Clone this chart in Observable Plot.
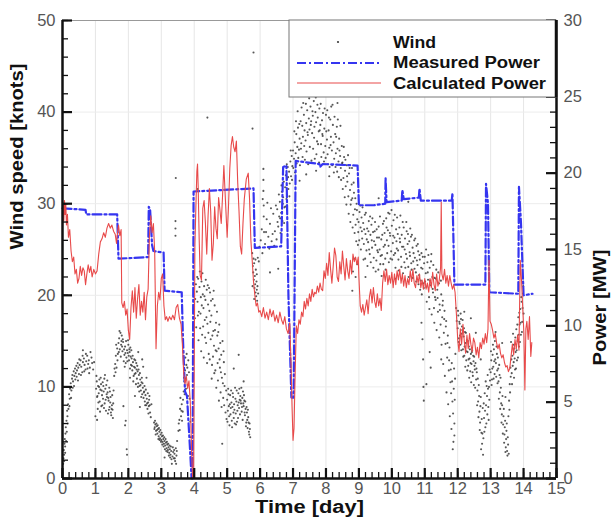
<!DOCTYPE html>
<html><head><meta charset="utf-8">
<script src="https://cdn.jsdelivr.net/npm/d3@7"></script>
<script src="https://cdn.jsdelivr.net/npm/@observablehq/plot@0.6"></script>
<style>
body{margin:0;background:#fff;}
#chart svg{display:block}
</style></head><body><div id="chart"></div>
<script>
// ---- tick labels ----
const xTicks = [0,1,2,3,4,5,6,7,8,9,10,11,12,13,14,15];
const leftTicks = [0,10,20,30,40,50];
const rightTicksMW = [0,5,10,15,20,25,30];
const KNOTS_PER_MW = 50/30;

// ---- Wind speed [knots] (scatter) : [day, knots] ----
const wind = [
[0.02,1.6],[0.03,2.2],[0.04,3.1],[0.05,2.6],[0.06,3.8],[0.07,4.3],[0.08,3.5],[0.09,4.9],[0.10,5.6],[0.11,4.1],[0.12,6.3],[0.14,7.4],[0.15,6.8],[0.17,8.1],[0.18,7.6],[0.20,9.2],[0.22,8.7],[0.23,9.8],[0.25,10.4],[0.27,9.6],[0.29,10.9],[0.30,11.3],[0.32,10.6],[0.34,11.7],[0.36,11.2],[0.38,12.0],[0.40,11.5],[0.42,12.3],[0.44,11.8],[0.46,12.6],[0.48,12.1],[0.50,11.4],[0.52,12.4],[0.55,12.9],[0.57,12.2],[0.60,11.6],[0.62,12.7],[0.65,13.1],[0.67,12.4],[0.70,11.9],[0.72,12.8],[0.75,13.4],[0.78,12.5],[0.80,12.9],[0.83,12.1],[0.85,13.8],[0.90,12.6],[0.62,14.0],
[1.02,9.8],[1.04,10.6],[1.05,8.9],[1.07,7.6],[1.08,10.1],[1.10,9.3],[1.12,10.8],[1.13,8.4],[1.15,9.7],[1.17,10.3],[1.18,7.9],[1.20,9.1],[1.22,10.5],[1.23,8.7],[1.25,9.5],[1.27,10.9],[1.28,8.2],[1.30,9.8],[1.32,7.4],[1.33,10.2],[1.35,8.9],[1.37,9.4],[1.38,7.1],[1.40,8.5],[1.42,9.9],[1.43,7.8],[1.45,8.3],[1.47,7.2],[1.48,6.9],[1.50,8.0],[1.52,7.5],[1.05,6.4],[1.00,6.8],[1.55,9.6],
[1.57,11.2],[1.60,12.5],[1.62,13.4],[1.64,12.1],[1.66,14.2],[1.68,13.6],[1.70,14.8],[1.72,15.3],[1.74,14.1],[1.76,15.9],[1.78,14.6],[1.80,15.6],[1.82,13.9],[1.84,14.9],[1.86,12.8],[1.88,13.5],[1.90,14.4],[1.92,12.6],[1.94,13.2],[1.96,14.0],[1.98,13.7],[2.00,14.6],[2.02,12.9],[2.04,13.8],[2.06,14.3],[2.08,12.4],[1.90,5.8],[1.92,6.3],[1.95,3.2],[1.96,2.6],[1.85,7.9],[2.10,13.1],
[2.12,11.8],[2.14,12.7],[2.16,11.2],[2.18,13.0],[2.20,12.1],[2.22,11.5],[2.24,12.6],[2.26,10.9],[2.28,11.7],[2.30,10.4],[2.32,11.3],[2.34,10.1],[2.36,10.8],[2.38,9.6],[2.40,10.5],[2.42,9.2],[2.44,9.9],[2.46,8.8],[2.48,9.5],[2.50,8.4],[2.52,9.1],[2.54,8.0],[2.56,8.7],[2.58,7.6],[2.60,8.3],[2.62,7.9],[2.64,9.0],[2.66,7.2],[2.30,13.8],[2.45,12.2],[2.55,11.0],[2.70,8.1],
[2.78,6.1],[2.80,5.6],[2.82,5.9],[2.84,5.2],[2.86,5.7],[2.88,4.9],[2.90,5.4],[2.92,4.6],[2.94,5.1],[2.96,4.4],[2.98,4.8],[3.00,4.2],[3.02,4.6],[3.04,4.0],[3.06,4.3],[3.08,3.8],[3.10,4.1],[3.12,3.6],[3.14,3.9],[3.16,3.3],[3.18,3.7],[3.20,3.1],[3.22,3.4],[3.24,2.8],[3.26,3.2],[3.28,2.6],[3.30,3.0],[3.32,1.6],[3.34,2.4],[3.36,2.9],[3.38,2.2],[3.40,2.7],[3.42,1.9],[3.44,3.3],[3.46,2.5],[3.48,4.1],[3.10,2.3],
[3.52,5.2],[3.55,6.4],[3.57,7.6],[3.60,6.8],[3.62,8.1],[3.65,7.3],[3.68,9.5],[3.70,10.6],[3.72,11.8],[3.74,10.9],[3.76,12.4],[3.78,11.3],[3.80,10.2],[3.82,12.9],[3.84,11.6],[3.86,8.7],[3.88,6.2],[3.90,4.5],[3.92,2.8],[3.43,26.5],[3.43,27.3],[3.43,28.1],[3.44,32.8],
[4.02,17.5],[4.05,21.2],[4.08,20.4],[4.10,19.3],[4.12,21.8],[4.14,18.2],[4.16,20.9],[4.18,16.4],[4.20,19.8],[4.22,21.5],[4.24,15.7],[4.26,20.1],[4.28,18.6],[4.30,21.0],[4.32,17.3],[4.34,19.5],[4.36,14.8],[4.38,20.6],[4.40,16.9],[4.42,19.0],[4.44,13.6],[4.46,18.3],[4.48,20.3],[4.50,15.2],[4.52,17.8],[4.54,12.4],[4.56,19.6],[4.58,16.1],[4.60,14.5],[4.62,18.9],[4.64,11.8],[4.66,17.0],[4.68,13.9],[4.70,15.6],[4.72,10.7],[4.74,14.2],[4.76,16.8],[4.78,12.1],[4.80,9.4],[4.82,13.5],[4.84,11.0],[4.86,15.0],[4.88,8.8],[4.90,12.7],[4.92,10.1],[4.95,7.2],[4.40,39.4],[4.10,31.6],[4.85,3.8],[4.25,22.4],
[5.00,8.6],[5.02,7.4],[5.04,9.2],[5.06,6.8],[5.08,8.1],[5.10,7.0],[5.12,9.6],[5.14,6.3],[5.16,7.8],[5.18,8.9],[5.20,6.6],[5.22,7.5],[5.24,9.9],[5.26,7.1],[5.28,8.4],[5.30,6.2],[5.32,8.0],[5.34,9.3],[5.36,7.7],[5.38,8.6],[5.40,9.0],[5.42,8.2],[5.44,7.3],[5.46,8.8],[5.48,9.5],[5.50,7.9],[5.52,8.5],[5.54,6.9],[5.56,7.6],[5.58,6.1],[5.60,7.2],[5.62,5.5],[5.64,6.7],[5.66,5.1],[5.68,6.0],[5.70,4.5],[5.20,12.0],[5.35,13.5],[5.50,10.6],[5.77,38.2],[5.80,46.5],
[5.76,24.6],[5.78,23.2],[5.79,22.5],[5.80,24.0],[5.81,21.7],[5.82,23.5],[5.83,20.8],[5.84,22.1],[5.85,21.2],[5.86,20.3],[5.87,22.8],[5.88,19.9],[5.89,21.5],[5.90,20.6],[5.91,19.4],[5.92,21.0],[5.94,20.2],[5.96,23.7],[5.98,25.3],
[6.05,27.2],[6.08,30.5],[6.10,33.8],[6.10,32.6],[6.10,31.4],[6.11,29.8],[6.11,28.6],[6.12,26.9],[6.15,25.6],[6.20,28.3],[6.25,26.4],[6.30,27.8],[6.35,25.9],[6.40,28.9],[6.45,27.0],[6.50,26.1],[6.52,29.4],[6.55,27.5],[6.58,28.6],[6.60,30.2],[6.62,26.8],[6.64,29.0],[6.66,31.3],[6.68,28.1],[6.70,30.7],[6.72,32.4],[6.74,29.6],[6.76,31.8],[6.78,33.1],[6.80,30.5],[6.82,32.7],[6.84,34.0],[6.86,31.6],[6.88,33.5],[6.90,32.2],[6.92,34.6],[6.94,33.0],[6.96,35.2],[6.98,34.1],[6.30,22.5],[6.55,22.9],
[7.00,35.8],[7.03,34.9],[7.05,36.7],[7.08,35.5],[7.10,37.6],[7.13,36.2],[7.15,38.3],[7.18,35.9],[7.20,37.1],[7.23,39.0],[7.25,36.6],[7.28,38.5],[7.30,37.3],[7.33,39.7],[7.35,38.0],[7.38,36.9],[7.40,38.8],[7.43,40.2],[7.45,37.5],[7.48,39.3],[7.50,38.1],[7.53,40.6],[7.55,39.0],[7.58,37.7],[7.60,39.6],[7.63,41.2],[7.65,38.4],[7.68,40.0],[7.70,38.9],[7.73,36.8],[7.75,39.4],[7.78,37.9],[7.80,40.4],[7.83,38.6],[7.85,36.5],[7.88,39.1],[7.90,37.4],[7.93,35.6],[7.95,38.2],[7.98,36.3],[8.00,39.7],[8.03,37.0],[8.05,35.4],[8.08,38.0],[8.10,36.1],[8.13,39.2],[8.15,37.3],[8.18,35.8],[8.20,40.8],[8.23,36.7],[8.25,34.9],[8.28,37.6],[8.30,35.5],[8.33,38.4],[8.35,36.0],[8.38,34.6],[8.40,37.1],[8.43,35.2],[8.45,33.9],[8.48,36.3],[7.40,33.2],[7.70,33.6],[8.10,33.0],[7.20,32.5],[7.90,41.8],[8.35,41.0],
[8.50,34.5],[8.53,32.8],[8.55,35.1],[8.58,33.6],[8.60,31.9],[8.63,34.2],[8.65,32.4],[8.68,30.8],[8.70,33.3],[8.73,31.5],[8.75,29.9],[8.78,32.1],[8.80,30.6],[8.83,28.8],[8.85,31.2],[8.88,29.4],[8.90,27.7],[8.93,30.0],[8.95,28.3],[8.98,26.9],[8.85,24.0],[8.82,22.6],[8.80,20.5],
[9.02,29.1],[9.05,27.4],[9.08,28.5],[9.10,26.2],[9.13,27.9],[9.15,25.6],[9.18,28.8],[9.20,26.7],[9.23,24.9],[9.25,27.3],[9.28,25.8],[9.30,28.1],[9.33,24.5],[9.35,26.6],[9.38,27.7],[9.40,25.2],[9.43,26.9],[9.45,24.1],[9.48,27.0],[9.50,25.5],[9.53,23.8],[9.55,26.3],[9.58,24.7],[9.60,27.5],[9.63,25.0],[9.65,23.4],[9.68,26.1],[9.70,24.4],[9.73,27.8],[9.75,25.3],[9.78,26.8],[9.80,24.0],[9.83,28.4],[9.85,26.0],[9.88,27.1],[9.90,25.4],[9.93,28.9],[9.95,26.5],[9.98,24.8],[10.00,27.6],[10.03,25.7],[10.05,28.2],[10.08,26.3],[10.10,24.6],[10.13,27.2],[10.15,25.1],[10.18,26.7],[10.20,23.9],[10.23,27.4],[10.25,25.8],[10.28,24.2],[10.30,26.6],[10.33,28.0],[10.35,25.3],[10.38,23.6],[10.40,26.2],[10.43,24.5],[10.45,27.0],[10.48,25.6],[10.50,23.1],[10.53,25.9],[10.55,24.3],[10.58,26.4],[10.60,22.8],[10.63,25.2],[10.65,23.7],[10.68,26.0],[10.70,24.1],[10.73,22.5],[10.75,25.4],[10.78,23.3],[10.80,24.8],[10.83,22.2],[10.85,23.9],[10.88,21.6],[10.90,24.6],[10.93,22.9],[10.95,21.3],[10.98,23.5],[9.20,22.0],[9.60,30.6],[10.10,21.8],[10.50,30.2],[10.90,17.0],[10.93,15.2],[10.95,13.0],[10.96,10.0],[10.97,8.5],
[11.00,24.2],[11.03,22.4],[11.05,20.9],[11.08,23.6],[11.10,21.7],[11.13,19.8],[11.15,23.0],[11.18,21.1],[11.20,24.5],[11.23,22.0],[11.25,20.3],[11.28,18.6],[11.30,21.9],[11.33,19.5],[11.35,22.8],[11.38,20.6],[11.40,18.2],[11.43,21.3],[11.45,19.0],[11.48,16.8],[11.50,20.1],[11.53,17.6],[11.55,19.4],[11.58,15.9],[11.60,18.3],[11.63,14.7],[11.65,17.2],[11.68,13.2],[11.70,15.6],[11.73,11.8],[11.75,14.3],[11.78,10.5],[11.80,9.3],[11.82,12.6],[11.84,8.4],[11.86,7.1],[11.88,9.8],[11.90,6.0],[11.92,10.9],[11.15,13.8],[11.18,12.1],[11.05,10.3],[11.50,13.0],[11.85,3.2],[11.90,4.7],
[11.95,18.6],[11.97,17.2],[12.00,16.4],[12.02,17.8],[12.04,15.3],[12.06,16.9],[12.08,14.6],[12.10,17.4],[12.12,15.8],[12.14,16.2],[12.16,14.1],[12.18,15.5],[12.20,13.4],[12.22,16.0],[12.24,14.8],[12.26,12.9],[12.28,15.1],[12.30,13.8],[12.32,12.3],[12.34,14.4],[12.36,13.1],[12.38,11.7],[12.40,13.6],[12.42,12.5],[12.44,14.0],[12.46,11.2],[12.48,12.8],[12.50,13.3],[12.52,11.9],[12.54,12.6],[12.56,10.8],[12.58,11.6],[12.60,9.6],[12.62,8.4],[12.64,10.2],[12.66,7.3],[12.68,6.1],[12.70,8.9],[12.72,5.0],[12.74,3.8],[12.76,7.7],[12.78,4.4],[12.80,6.6],[12.82,9.3],[12.84,5.6],[12.86,8.0],[12.88,10.1],[12.90,7.0],[12.92,9.8],[12.94,6.4],[12.96,8.6],[12.98,10.7],[12.20,18.2],[12.40,17.5],[12.55,15.9],[12.70,13.0],
[13.00,11.6],[13.02,12.9],[13.04,10.8],[13.06,13.5],[13.08,12.2],[13.10,14.1],[13.12,11.4],[13.14,13.0],[13.16,12.6],[13.18,14.4],[13.20,11.8],[13.22,13.2],[13.24,10.6],[13.26,12.4],[13.28,9.4],[13.30,11.0],[13.32,8.2],[13.34,7.0],[13.36,9.0],[13.38,5.9],[13.40,7.6],[13.42,4.8],[13.44,6.3],[13.46,3.4],[13.48,5.2],[13.50,3.0],[13.52,4.5],[13.54,6.8],[13.56,8.5],[13.58,10.3],[13.60,12.1],[13.62,14.9],[13.64,11.5],[13.66,13.4],[13.68,15.8],[13.70,12.7],[13.72,14.2],[13.74,11.9],[13.76,13.8],[13.78,16.3],[13.80,12.9],[13.82,15.0],[13.84,17.6],[13.86,14.4],[13.88,16.8],[13.90,18.5],[13.92,15.7],[13.94,19.3],[13.96,17.1],[13.98,20.2],[14.00,18.0],[13.45,8.9],[13.35,14.8],[13.15,16.0],[13.55,2.7]
];
// more wind samples read from the denser parts of the cloud
const windMore = [
[0.05,1.9],[0.08,2.8],[0.13,5.1],[0.16,6.0],[0.21,7.9],[0.26,8.8],[0.31,9.9],[0.35,10.1],[0.39,10.8],[0.43,11.1],[0.47,10.7],[0.51,13.0],[0.56,11.3],[0.61,13.4],[0.66,11.7],[0.71,13.6],[0.76,12.0],[0.81,11.5],[0.88,13.2],[0.93,11.9],[0.96,12.7],
[1.03,11.2],[1.06,9.0],[1.09,8.3],[1.11,10.0],[1.14,7.3],[1.16,11.0],[1.19,9.6],[1.21,8.0],[1.24,10.1],[1.26,7.7],[1.29,11.3],[1.31,8.6],[1.34,9.2],[1.36,10.7],[1.39,8.8],[1.41,7.5],[1.44,9.5],[1.46,8.9],[1.49,7.6],[1.51,9.1],[1.53,6.6],[1.54,8.2],
[1.58,12.0],[1.61,11.6],[1.63,14.6],[1.67,12.9],[1.71,13.8],[1.73,16.1],[1.77,13.3],[1.79,15.0],[1.81,14.4],[1.83,15.2],[1.87,14.1],[1.89,12.2],[1.91,13.7],[1.93,15.0],[1.97,12.8],[1.99,15.1],[2.01,13.4],[2.03,14.1],[2.05,12.0],[2.07,13.3],[2.09,14.0],[2.11,12.3],[2.13,13.4],[2.15,10.6],[2.17,12.2],[2.19,11.4],[2.21,12.9],[2.23,10.3],[2.25,11.9],[2.27,12.3],[2.29,10.0],[2.31,11.9],[2.33,9.5],[2.35,11.5],[2.37,10.2],[2.39,8.9],[2.41,11.0],[2.43,10.4],[2.47,9.4],[2.49,10.1],[2.51,8.0],[2.53,9.7],[2.57,8.2],[2.59,9.3],[2.61,7.1],[2.63,8.6],[2.65,8.0],[2.68,6.7],[2.20,9.0],[2.35,7.8],[2.42,13.0],[2.05,11.0],
[2.79,5.4],[2.81,6.3],[2.83,4.8],[2.85,6.0],[2.87,5.3],[2.89,5.8],[2.91,4.3],[2.93,5.5],[2.95,4.2],[2.97,5.3],[2.99,4.0],[3.01,5.0],[3.03,3.7],[3.05,4.7],[3.07,3.5],[3.09,4.5],[3.11,3.2],[3.13,4.3],[3.15,3.0],[3.17,4.0],[3.19,2.9],[3.21,3.8],[3.23,2.5],[3.25,3.6],[3.27,2.3],[3.29,3.5],[3.31,2.1],[3.35,3.4],[3.39,3.1],[3.41,2.2],[3.45,1.6],[3.47,3.0],
[3.53,6.0],[3.56,5.3],[3.58,8.8],[3.61,7.4],[3.63,6.3],[3.66,8.6],[3.69,11.0],[3.71,9.2],[3.73,13.2],[3.75,9.8],[3.77,13.6],[3.79,12.1],[3.81,9.0],
[4.03,19.6],[4.06,16.5],[4.09,22.0],[4.11,17.8],[4.13,15.1],[4.17,22.6],[4.19,18.0],[4.21,13.9],[4.23,18.9],[4.27,16.6],[4.29,13.2],[4.31,19.9],[4.33,15.4],[4.35,21.7],[4.37,17.6],[4.39,12.6],[4.41,21.1],[4.43,15.9],[4.45,20.8],[4.47,13.0],[4.49,17.1],[4.51,19.4],[4.53,10.9],[4.55,15.6],[4.57,13.3],[4.59,20.5],[4.61,11.5],[4.63,16.2],[4.65,14.0],[4.67,9.9],[4.69,18.2],[4.71,12.6],[4.73,16.0],[4.75,8.5],[4.77,13.0],[4.79,14.8],[4.81,11.6],[4.83,7.8],[4.87,10.4],[4.89,13.9],[4.91,8.0],[4.93,11.4],[4.97,9.6],[4.98,6.5],
[5.01,6.2],[5.03,9.8],[5.05,7.9],[5.07,5.8],[5.09,9.1],[5.11,7.7],[5.13,8.3],[5.15,5.6],[5.17,9.3],[5.19,7.2],[5.21,8.1],[5.23,6.0],[5.25,8.7],[5.27,5.9],[5.29,9.6],[5.31,7.4],[5.33,6.6],[5.35,8.3],[5.37,9.8],[5.39,7.0],[5.41,8.5],[5.43,9.9],[5.45,7.8],[5.47,6.4],[5.49,8.2],[5.51,9.1],[5.53,7.2],[5.55,8.4],[5.57,5.7],[5.59,7.8],[5.61,6.4],[5.63,7.5],[5.65,6.1],[5.67,4.8],[5.69,5.4],
[5.77,21.0],[5.82,19.6],[5.86,23.9],[5.90,22.3],[5.93,24.1],[6.02,26.0],[6.07,24.6],[6.18,26.9],[6.22,30.1],[6.28,25.1],[6.33,29.5],[6.38,26.7],[6.43,25.4],[6.48,29.8],[6.53,28.0],[6.57,31.0],[6.61,28.4],[6.65,32.0],[6.69,30.0],[6.73,27.9],[6.77,29.7],[6.81,34.3],[6.85,32.9],[6.89,30.8],[6.93,35.8],[6.97,32.6],
[7.01,33.9],[7.04,37.9],[7.06,33.4],[7.09,39.0],[7.11,34.4],[7.14,40.1],[7.16,35.0],[7.19,38.7],[7.21,34.2],[7.24,36.0],[7.26,40.5],[7.29,35.1],[7.31,41.0],[7.34,36.3],[7.36,34.8],[7.39,40.9],[7.41,35.7],[7.44,37.8],[7.46,34.3],[7.49,41.5],[7.51,36.2],[7.54,38.6],[7.56,34.7],[7.59,40.1],[7.61,36.0],[7.64,37.2],[7.66,34.9],[7.69,41.6],[7.71,35.4],[7.74,40.8],[7.76,36.5],[7.79,34.5],[7.81,38.0],[7.84,40.9],[7.86,35.1],[7.89,37.6],[7.91,39.9],[7.94,34.6],[7.96,40.4],[7.99,35.0],[8.01,37.9],[8.04,40.2],[8.06,34.3],[8.09,39.4],[8.11,34.0],[8.14,36.4],[8.16,40.6],[8.19,34.2],[8.21,38.6],[8.24,33.4],[8.26,39.5],[8.29,34.0],[8.31,37.3],[8.34,33.5],[8.36,39.2],[8.39,32.9],[8.41,35.8],[8.44,38.5],[8.46,32.6],[8.49,34.4],
[8.51,31.6],[8.54,36.2],[8.57,30.7],[8.59,34.8],[8.62,29.9],[8.64,33.0],[8.67,35.3],[8.69,28.9],[8.72,33.9],[8.74,28.0],[8.77,30.4],[8.79,33.9],[8.81,27.4],[8.84,32.3],[8.87,26.8],[8.89,30.6],[8.92,25.9],[8.94,29.3],[8.97,25.5],[8.99,28.0],[8.90,22.0],[8.95,23.4],
[9.01,26.0],[9.04,29.8],[9.06,25.0],[9.09,27.0],[9.11,29.6],[9.14,23.9],[9.16,27.2],[9.19,24.0],[9.21,29.0],[9.24,26.1],[9.26,23.2],[9.29,27.0],[9.31,25.0],[9.34,28.6],[9.36,23.6],[9.39,26.0],[9.41,28.4],[9.44,23.0],[9.46,25.9],[9.49,28.0],[9.51,22.6],[9.54,27.2],[9.56,24.9],[9.59,22.8],[9.61,26.3],[9.64,28.6],[9.66,24.3],[9.69,22.1],[9.71,26.6],[9.74,23.4],[9.76,28.1],[9.79,25.5],[9.81,22.8],[9.84,27.4],[9.86,24.6],[9.89,29.0],[9.91,23.6],[9.94,26.8],[9.96,24.0],[9.99,29.3],[10.01,23.9],[10.04,26.5],[10.06,24.4],[10.09,28.8],[10.11,23.0],[10.14,25.9],[10.16,28.5],[10.19,24.9],[10.21,22.7],[10.24,26.2],[10.26,28.7],[10.29,23.1],[10.31,25.3],[10.34,22.4],[10.36,27.4],[10.39,25.0],[10.41,23.0],[10.44,28.0],[10.46,24.0],[10.49,26.7],[10.51,22.0],[10.54,24.7],[10.56,27.3],[10.59,23.5],[10.61,26.6],[10.64,21.9],[10.66,24.6],[10.69,22.9],[10.71,26.2],[10.74,21.5],[10.76,23.8],[10.79,25.6],[10.81,21.2],[10.84,24.4],[10.86,20.6],[10.89,23.0],[10.91,20.1],[10.94,24.2],[10.97,20.8],
[11.01,21.5],[11.04,25.0],[11.06,19.3],[11.09,22.5],[11.11,24.4],[11.14,18.5],[11.16,21.6],[11.19,23.7],[11.21,17.9],[11.24,20.7],[11.26,23.3],[11.29,17.0],[11.31,19.8],[11.34,21.8],[11.36,16.2],[11.39,19.7],[11.41,22.5],[11.44,15.4],[11.46,18.4],[11.49,21.6],[11.51,14.6],[11.54,18.9],[11.56,12.5],[11.59,17.4],[11.61,11.2],[11.64,16.6],[11.66,9.4],[11.69,14.8],[11.71,8.1],[11.74,12.9],[11.76,6.8],[11.79,11.9],[11.81,5.4],[11.83,10.6],[11.87,4.0],[11.89,12.0],[11.91,8.6],[11.93,13.6],
[12.01,18.3],[12.03,14.9],[12.05,17.1],[12.07,15.6],[12.09,18.0],[12.11,14.0],[12.13,16.6],[12.15,17.3],[12.17,13.3],[12.19,16.4],[12.21,14.4],[12.23,12.2],[12.25,15.9],[12.27,13.9],[12.29,11.8],[12.31,15.0],[12.33,13.0],[12.35,11.0],[12.37,14.1],[12.39,12.6],[12.41,10.5],[12.43,13.8],[12.45,11.6],[12.47,13.4],[12.49,10.2],[12.51,12.3],[12.53,9.9],[12.57,12.0],[12.59,8.0],[12.61,10.9],[12.63,6.7],[12.65,9.0],[12.67,5.3],[12.69,7.9],[12.71,3.2],[12.73,6.5],[12.75,4.9],[12.77,2.6],[12.79,8.2],[12.81,5.1],[12.83,7.4],[12.85,10.6],[12.87,6.0],[12.89,9.0],[12.91,11.3],[12.93,7.8],[12.95,10.0],[12.97,11.9],
[13.01,13.9],[13.03,10.2],[13.05,12.0],[13.07,14.6],[13.09,10.9],[13.11,12.8],[13.13,15.0],[13.17,11.1],[13.19,13.6],[13.21,10.4],[13.23,12.0],[13.25,8.7],[13.27,11.3],[13.29,7.6],[13.31,9.9],[13.33,6.1],[13.35,8.0],[13.37,4.9],[13.39,6.8],[13.41,3.9],[13.43,5.6],[13.45,2.9],[13.47,4.3],[13.49,6.0],[13.51,2.5],[13.53,3.7],[13.57,7.5],[13.59,9.4],[13.61,11.1],[13.63,13.0],[13.65,10.3],[13.67,12.3],[13.69,14.6],[13.71,11.0],[13.73,13.1],[13.75,15.4],[13.77,12.0],[13.79,14.0],[13.81,16.8],[13.83,13.2],[13.85,15.7],[13.87,18.1],[13.89,14.9],[13.91,17.0],[13.93,19.8],[13.95,16.0],[13.97,18.6],[13.99,21.0]
];

// ---- Measured Power [MW] ----
const measuredDay = [0.00,0.70,0.72,1.66,1.70,2.60,2.62,2.66,2.72,2.76,3.07,3.10,3.62,3.66,3.72,3.78,3.86,3.92,3.95,3.98,5.80,5.84,6.64,6.70,6.80,6.86,6.95,7.02,7.08,7.80,7.82,7.90,8.96,9.00,9.45,9.80,9.81,9.84,10.30,10.32,10.36,10.82,10.84,10.88,11.82,11.84,11.90,12.84,12.86,12.92,12.96,13.84,13.86,13.92,14.00,14.27];
const measuredMW  = [17.7,17.6,17.3,17.3,14.4,14.5,17.8,17.6,15.3,14.9,14.8,12.3,12.2,9.0,5.7,5.4,2.4,0.0,0.0,18.8,19.0,15.1,15.2,20.4,20.5,12.0,5.3,5.3,20.8,20.6,20.4,20.6,20.5,17.9,17.9,18.0,19.7,18.1,18.2,18.9,18.3,18.4,19.0,18.2,18.2,18.7,12.7,12.7,19.3,18.0,12.2,12.1,19.1,16.8,12.0,12.1];

// ---- Calculated Power [MW] ----
const calcDay = [0.00,0.02,0.04,0.06,0.08,0.10,0.12,0.15,0.18,0.22,0.26,0.30,0.34,0.38,0.42,0.46,0.50,0.54,0.58,0.62,0.66,0.70,0.74,0.78,0.82,0.86,0.90,0.95,1.00,1.05,1.10,1.15,1.20,1.25,1.30,1.35,1.40,1.45,1.50,1.55,1.60,1.64,1.67,1.70,1.74,1.78,1.80,1.84,1.88,1.92,1.96,2.00,2.04,2.08,2.12,2.16,2.20,2.24,2.28,2.32,2.36,2.40,2.44,2.48,2.52,2.56,2.60,2.64,2.68,2.72,2.76,2.80,2.84,2.88,2.92,2.96,3.00,3.04,3.08,3.12,3.16,3.20,3.25,3.30,3.35,3.40,3.45,3.50,3.55,3.60,3.64,3.68,3.72,3.76,3.80,3.84,3.88,3.92,3.95,3.98,4.00,4.02,4.05,4.08,4.10,4.12,4.15,4.18,4.22,4.26,4.30,4.34,4.38,4.42,4.46,4.50,4.54,4.58,4.62,4.66,4.70,4.74,4.78,4.82,4.86,4.90,4.95,5.00,5.04,5.08,5.12,5.16,5.20,5.24,5.28,5.32,5.36,5.40,5.44,5.48,5.52,5.58,5.64,5.68,5.72,5.76,5.80,5.84,5.88,5.92,5.96,6.00,6.05,6.10,6.15,6.20,6.25,6.30,6.35,6.40,6.45,6.50,6.55,6.60,6.65,6.70,6.75,6.80,6.85,6.90,6.94,6.97,7.00,7.03,7.06,7.10,7.14,7.18,7.22,7.26,7.30,7.34,7.38,7.42,7.46,7.50,7.54,7.58,7.62,7.66,7.70,7.74,7.78,7.82,7.86,7.90,7.94,7.98,8.02,8.06,8.10,8.14,8.18,8.22,8.26,8.30,8.34,8.38,8.42,8.46,8.50,8.54,8.58,8.62,8.66,8.70,8.74,8.78,8.82,8.86,8.90,8.94,8.98,9.00,9.04,9.08,9.12,9.16,9.20,9.24,9.28,9.32,9.36,9.40,9.44,9.48,9.52,9.56,9.60,9.64,9.68,9.72,9.76,9.80,9.84,9.88,9.92,9.96,10.00,10.04,10.08,10.12,10.16,10.20,10.24,10.28,10.32,10.36,10.40,10.44,10.48,10.52,10.56,10.60,10.64,10.68,10.72,10.76,10.80,10.84,10.88,10.92,10.96,11.00,11.04,11.08,11.12,11.16,11.20,11.24,11.28,11.32,11.36,11.40,11.44,11.48,11.50,11.52,11.56,11.60,11.64,11.68,11.72,11.76,11.80,11.84,11.88,11.92,11.96,12.00,12.04,12.08,12.12,12.16,12.20,12.24,12.28,12.32,12.36,12.40,12.44,12.48,12.52,12.56,12.60,12.64,12.68,12.72,12.76,12.80,12.84,12.88,12.92,12.95,12.98,13.02,13.06,13.10,13.14,13.18,13.22,13.26,13.30,13.34,13.38,13.42,13.46,13.50,13.54,13.58,13.62,13.66,13.70,13.74,13.78,13.82,13.86,13.90,13.94,13.98,14.01,14.04,14.07,14.10,14.14,14.18,14.22,14.25];
const calcMW = [16.5,17.9,16.9,18.2,17.3,18.0,16.6,17.3,15.8,16.3,14.9,14.2,14.5,13.4,13.7,12.8,13.1,13.9,13.3,13.8,13.6,12.7,13.4,14.0,13.5,13.9,13.2,13.7,13.4,13.6,14.7,15.5,15.7,16.1,15.8,16.4,16.7,16.4,16.6,16.2,16.0,15.4,16.1,16.6,15.9,16.3,11.5,11.2,11.6,10.7,11.1,9.7,9.1,11.2,12.3,10.9,12.5,10.5,11.8,12.7,10.7,11.6,10.9,12.2,10.4,11.9,12.4,15.9,17.2,16.1,16.7,14.8,8.5,11.3,12.2,11.7,13.1,13.4,11.3,10.4,10.6,10.3,10.6,10.4,10.7,10.4,11.2,11.4,10.5,10.1,8.8,6.9,6.2,6.7,5.9,6.4,5.0,1.8,0.1,0.0,7.2,15.2,17.8,20.1,20.6,19.1,15.7,13.3,13.0,17.7,18.2,16.7,14.7,17.2,19.0,17.5,14.3,15.4,17.8,16.4,15.7,18.4,17.6,16.7,18.5,20.5,18.1,15.8,17.8,20.3,21.8,22.4,21.7,21.4,22.1,19.4,17.5,15.2,14.7,16.7,18.3,19.6,20.0,18.3,15.6,14.3,12.9,12.0,11.3,11.5,10.9,11.0,10.6,11.2,10.5,10.9,10.4,11.1,10.6,11.0,10.3,10.7,10.2,10.9,10.4,10.1,10.6,9.8,9.5,10.2,7.5,4.7,2.5,3.3,6.5,10.0,9.5,10.4,10.1,10.9,10.6,11.6,11.1,11.8,11.3,12.1,11.6,12.4,11.9,12.2,12.1,12.6,12.2,12.8,12.4,12.3,13.6,13.1,14.1,13.3,14.8,13.7,12.8,13.9,15.1,14.6,13.2,12.9,14.2,13.4,14.9,13.9,13.0,14.4,13.6,13.1,14.3,13.4,14.7,14.2,14.5,14.0,14.5,13.2,11.3,10.9,11.4,10.7,11.2,11.7,10.8,11.9,12.4,11.5,12.5,11.6,11.2,12.1,11.3,11.8,11.0,12.8,13.6,12.9,13.7,12.7,13.3,12.8,13.5,12.5,13.4,12.7,13.6,13.0,13.7,12.8,13.4,12.6,13.3,12.5,13.1,12.7,13.6,12.9,13.7,12.8,12.5,13.3,12.8,13.4,12.5,13.0,12.4,13.1,12.4,12.8,12.2,13.1,12.5,13.5,12.7,12.3,13.4,12.6,13.0,13.8,18.1,13.4,13.0,13.7,12.8,13.3,12.6,13.3,12.8,12.4,12.7,12.2,10.8,9.1,8.3,9.8,8.8,10.1,9.0,8.2,9.4,8.5,9.5,8.8,8.3,9.2,8.9,8.1,8.6,7.9,8.9,8.5,9.2,8.8,9.5,8.9,9.8,14.3,10.3,10.1,9.7,9.2,9.5,8.9,8.5,8.8,8.2,7.9,8.1,7.6,7.3,7.4,7.0,7.2,8.0,8.8,8.1,9.1,8.5,9.4,8.4,14.3,12.9,10.9,9.5,5.8,9.8,10.3,9.1,10.6,8.0,8.9];

const measured = measuredDay.map((d,i)=>({day:d, mw:measuredMW[i]}));
const calc = calcDay.map((d,i)=>({day:d, mw:calcMW[i]}));
const windAll = wind.concat(windMore);

const xMinor = d3.range(0, 15.001, 0.2);
const yMinorLeft = d3.range(0, 50.001, 2);
const yMinorRight = d3.range(0, 30.001, 1).map(v => v * KNOTS_PER_MW);
const yMajorRight = rightTicksMW.map(v => v * KNOTS_PER_MW);

const FONT = "'Liberation Sans', Arial, Helvetica, sans-serif";
const BLUE = "#3535f0", RED = "#e84a4a", DOT = "#3a3a3a", INK = "#111";

const chart = Plot.plot({
  width: 612, height: 520,
  marginLeft: 62, marginRight: 56, marginTop: 20, marginBottom: 42,
  style: {fontFamily: FONT, fontSize: "16.5px"},
  x: {domain: [0, 15]},
  y: {domain: [0, 50]},
  marks: [
    Plot.gridX(xTicks.slice(1, -1), {stroke: "#e6e6e6", strokeOpacity: 1}),
    Plot.gridY(leftTicks.slice(1, -1), {stroke: "#ececec", strokeOpacity: 1}),
    Plot.dot(windAll, {x: d => d[0], y: d => d[1], r: 1.05, fill: DOT, fillOpacity: 0.85}),
    Plot.line(measured, {x: "day", y: d => d.mw * KNOTS_PER_MW, stroke: BLUE, strokeWidth: 2.2, strokeDasharray: "9,3,2,3"}),
    Plot.line(calc, {x: "day", y: d => d.mw * KNOTS_PER_MW, stroke: RED, strokeWidth: 1.1}),
    // frame
    Plot.ruleY([50], {stroke: "#999", strokeWidth: 1}),
    Plot.ruleX([0], {stroke: INK, strokeWidth: 2.5}),
    Plot.ruleX([15], {stroke: INK, strokeWidth: 2.5}),
    Plot.ruleY([0], {stroke: INK, strokeWidth: 2.5}),
    // tick labels
    Plot.axisX(xTicks, {anchor: "bottom", tickSize: 0, tickPadding: 4, fill: "#555", label: null}),
    Plot.axisY(leftTicks, {anchor: "left", tickSize: 0, tickPadding: 7, fill: "#555", label: null}),
    Plot.axisY(yMajorRight, {anchor: "right", tickSize: 0, tickPadding: 7, fill: "#555", tickFormat: d => String(Math.round(d / KNOTS_PER_MW)), label: null}),
    // titles
    Plot.text(["Wind speed [knots]"], {text: d => d, frameAnchor: "left", dx: -45, rotate: -90, fontSize: 18, fontWeight: "bold", fill: INK}),
    Plot.text(["Power [MW]"], {text: d => d, frameAnchor: "right", dx: 44, rotate: -90, fontSize: 18, fontWeight: "bold", fill: INK}),
    Plot.text(["Time [day]"], {text: d => d, frameAnchor: "bottom", dy: 34, fontSize: 18, fontWeight: "bold", fill: INK}),
    // inward ticks (drawn last): zero-length rules on the axis, extended inward by negative insets
    Plot.ruleX(xMinor, {x: d => d, y1: 0, y2: 0, insetTop: -6, stroke: INK, strokeWidth: 1.3}),
    Plot.ruleX(xTicks, {x: d => d, y1: 0, y2: 0, insetTop: -10, stroke: INK, strokeWidth: 2.2}),
    Plot.ruleY(yMinorLeft, {y: d => d, x1: 0, x2: 0, insetRight: -6, stroke: INK, strokeWidth: 1.3}),
    Plot.ruleY(leftTicks, {y: d => d, x1: 0, x2: 0, insetRight: -10, stroke: INK, strokeWidth: 2.2}),
    Plot.ruleY(yMinorRight, {y: d => d, x1: 15, x2: 15, insetLeft: -6, stroke: INK, strokeWidth: 1.3}),
    Plot.ruleY(yMajorRight, {y: d => d, x1: 15, x2: 15, insetLeft: -10, stroke: INK, strokeWidth: 2.2})
  ]
});

document.getElementById("chart").appendChild(chart);
const svg = d3.select(chart);

// stretch titles horizontally like the reference lettering
const titleLengths = {"Wind speed [knots]": 186, "Power [MW]": 116, "Time [day]": 109};
svg.selectAll("text").each(function() {
  const t = this.textContent;
  if (titleLengths[t]) d3.select(this).attr("textLength", titleLengths[t]).attr("lengthAdjust", "spacingAndGlyphs");
});

// ---- legend (inside plot, top right) ----
const legendItems = ["Wind", "Measured Power", "Calculated Power"];
const legendLengths = [43, 147, 153];
const g = svg.append("g").attr("font-family", FONT).attr("font-weight", "bold").attr("font-size", 16).attr("text-anchor", "start");
g.append("rect").attr("x", 289).attr("y", 20).attr("width", 267).attr("height", 77)
  .attr("fill", "#fff").attr("stroke", "#777").attr("stroke-width", 1);
g.append("circle").attr("cx", 338).attr("cy", 42).attr("r", 1.1).attr("fill", DOT);
g.append("line").attr("x1", 297).attr("x2", 381).attr("y1", 63).attr("y2", 63)
  .attr("stroke", BLUE).attr("stroke-width", 2).attr("stroke-dasharray", "9,3,2,3");
g.append("line").attr("x1", 297).attr("x2", 381).attr("y1", 83).attr("y2", 83)
  .attr("stroke", RED).attr("stroke-width", 1.1);
legendItems.forEach((t, i) => {
  g.append("text").attr("x", 393).attr("y", 42 + i * 20.5).attr("dy", "0.35em")
    .attr("fill", INK).attr("textLength", legendLengths[i]).attr("lengthAdjust", "spacingAndGlyphs").text(t);
});
g.append("line").attr("x1", 556).attr("x2", 556).attr("y1", 20).attr("y2", 97).attr("stroke", INK).attr("stroke-width", 2.5);
</script>
</body></html>
